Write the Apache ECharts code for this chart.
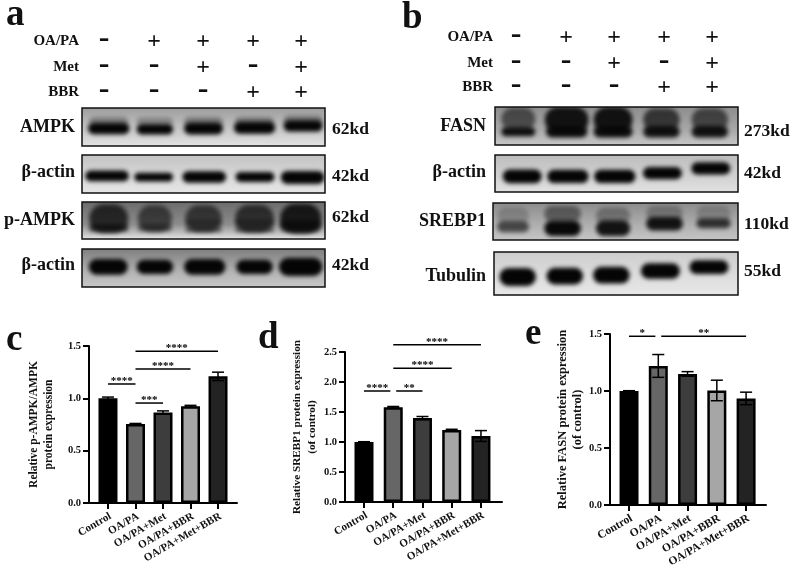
<!DOCTYPE html>
<html>
<head>
<meta charset="utf-8">
<style>
  html, body { margin: 0; background: #fff; }
  #chart { width: 792px; height: 570px; }
</style>
<script src="https://cdn.jsdelivr.net/npm/echarts@6/dist/echarts.min.js"></script>
</head>
<body>
<div id="chart"></div>
<script>
// bar panels
const categories = ['Control', 'OA/PA', 'OA/PA+Met', 'OA/PA+BBR', 'OA/PA+Met+BBR']
const valuesC = [1.0, 0.755, 0.865, 0.925, 1.21]
const errorsC = [0.012, 0.005, 0.015, 0.008, 0.04]
const valuesD = [1.0, 1.58, 1.4, 1.2, 1.1]
const errorsD = [0.005, 0.012, 0.025, 0.012, 0.09]
const valuesE = [1.0, 1.22, 1.15, 1.005, 0.935]
const errorsE = [0.003, 0.1, 0.02, 0.09, 0.055]
// significance brackets: from, to, height, stars
const sigC = [[0, 1, 1.137, '****'], [1, 2, 0.955, '***'], [1, 3, 1.28, '****'], [1, 4, 1.45, '****']]
const sigD = [[0, 0.9, 1.85, '****'], [1.1, 2, 1.85, '**'], [1, 3, 2.23, '****'], [1, 4, 2.62, '****']]
const sigE = [[0, 0.9, 1.48, '*'], [1.1, 4, 1.48, '**']]

// treatment rows
const lanesOaPa = ['-', '+', '+', '+', '+']
const lanesMet = ['-', '-', '+', '-', '+']
const lanesBbr = ['-', '-', '-', '+', '+']

// blot bands: lane %, height %, width %, thickness %, density
const blotAmpk = [[11, 64, 16, 24, .3], [30, 64, 15, 22, .27], [50, 64, 16, 24, .32], [71, 64, 16, 24, .32], [91, 68, 16, 24, .32],
  [11, 46, 17, 30, 1], [30, 44, 15, 28, 1], [50, 46, 16, 32, 1], [71, 48, 17, 32, 1], [91, 53, 16, 30, 1]]
const blotActinA = [[10.3, 45, 18, 28, 1], [29.5, 42, 16, 23, 1], [50.3, 42, 18, 30, 1], [71.2, 42, 16, 26, 1], [90.8, 41, 18, 34, 1]]
const blotPampk = [[11, 55, 16, 78, .75], [30, 55, 14, 72, .58], [50, 55, 15, 72, .62], [71, 55, 16, 75, .68], [90, 55, 17, 80, .85],
  [11, 30, 16, 20, .7], [30, 30, 14, 18, .5], [50, 44, 15, 16, .35], [50, 26, 15, 14, .55], [71, 44, 16, 16, .4], [71, 26, 16, 14, .55], [90, 35, 17, 32, .7]]
const blotActinB = [[10.8, 53, 16, 42, 1], [30, 53, 15, 38, 1], [50.5, 53, 17, 42, 1], [71, 53, 15, 38, 1], [90, 53, 18, 48, 1]]
const blotFasn = [[9.6, 68, 14, 60, .55], [29.5, 66, 18, 68, .92], [48.6, 66, 16, 68, .92], [68.5, 66, 15, 60, .68], [88.4, 66, 15, 60, .6],
  [9.6, 35, 14, 24, .95], [29.5, 35, 17, 30, .95], [48.6, 35, 16, 30, .95], [68.5, 35, 15, 30, .92], [88.4, 35, 15, 30, .92]]
const blotActinC = [[11.2, 42, 16, 37, 1], [30, 42, 17, 36, 1], [49.3, 42, 17, 36, 1], [68.9, 51, 16, 33, 1], [88.8, 64, 16, 33, 1]]
const blotSrebp = [[8.2, 65, 13, 44, .2], [28.4, 70, 15, 44, .45], [49, 65, 14, 44, .32], [70, 70, 15, 44, .28], [90, 70, 14, 44, .2],
  [8.2, 36, 13, 30, .62], [28.4, 32, 15, 42, .98], [49, 32, 14, 42, .92], [70, 44, 15, 36, .92], [90, 45, 14, 26, .75]]
const blotTubulin = [[9.7, 42, 15, 42, 1], [29, 44, 15, 39, 1], [48.1, 46, 15, 39, 1], [68.2, 56, 16, 36, 1], [88.1, 65, 16, 32, 1]]

const blotA = [
  { bands: blotAmpk, box: [82, 108, 243, 38], bg: ['#9c9c9c', '#c9c9c9', '#e4e4e4'], name: 'AMPK', nameY: 127, kdY: 129 },
  { bands: blotActinA, box: [82, 155, 243, 38], bg: ['#c2c2c2', '#dadada', '#e6e6e6'], name: 'β-actin', nameY: 172, kdY: 176 },
  { bands: blotPampk, box: [82, 202, 243, 37], bg: ['#6a6a6a', '#8c8c8c', '#e8e8e8'], name: 'p-AMPK', nameY: 220, kdY: 217 },
  { bands: blotActinB, box: [82, 249, 243, 38], bg: ['#7d7d7d', '#b4b4b4', '#c8c8c8'], name: 'β-actin', nameY: 265, kdY: 265 }
]
const blotB = [
  { bands: blotFasn, box: [495, 107, 243, 38], bg: ['#8c8c8c', '#a8a8a8', '#c8c8c8'], name: 'FASN', nameY: 126, kdY: 131 },
  { bands: blotActinC, box: [495, 155, 243, 37], bg: ['#bcbcbc', '#d2d2d2', '#e2e2e2'], name: 'β-actin', nameY: 172, kdY: 173 },
  { bands: blotSrebp, box: [493, 203, 245, 37], bg: ['#8a8a8a', '#b0b0b0', '#c6c6c6'], name: 'SREBP1', nameY: 221, kdY: 224 },
  { bands: blotTubulin, box: [494, 252, 244, 43], bg: ['#cdcdcd', '#dedede', '#e8e8e8'], name: 'Tubulin', nameY: 276, kdY: 271 }
]
const kdA = ['62kd', '42kd', '62kd', '42kd']
const kdB = ['273kd', '42kd', '110kd', '55kd']

const serif = '"Liberation Serif"'
const barColors = ['#000000', '#666666', '#3d3d3d', '#a6a6a6', '#232323']

const grids = []
const xAxes = []
const yAxes = []
const series = []
const texts = []

function addText(text, x, y, size, align) {
  texts.push({
    type: 'text',
    style: {
      text, x, y,
      font: `bold ${size}px ${serif}`,
      textAlign: align || 'left',
      textVerticalAlign: 'middle',
      fill: '#111'
    }
  })
}

// one membrane strip: hidden axes, bands placed by the axes in % of the strip
function addBlot(strip) {
  const idx = grids.length
  const [left, top, width, height] = strip.box
  grids.push({
    left, top, width, height,
    show: true,
    borderColor: '#111',
    borderWidth: 1.5,
    backgroundColor: new echarts.graphic.LinearGradient(0, 0, 0, 1, [
      { offset: 0, color: strip.bg[0] },
      { offset: 0.6, color: strip.bg[1] },
      { offset: 1, color: strip.bg[2] }
    ])
  })
  xAxes.push({ gridIndex: idx, type: 'value', min: 0, max: 100, show: false })
  yAxes.push({ gridIndex: idx, type: 'value', min: 0, max: 100, show: false })
  series.push({
    type: 'custom',
    xAxisIndex: idx,
    yAxisIndex: idx,
    clip: true,
    silent: true,
    data: strip.bands,
    renderItem(params, api) {
      const c = api.coord([api.value(0), api.value(1)])
      const s = api.size([api.value(2), api.value(3)])
      const k = api.value(4)
      // only the shadow lands on the strip, so the band has no hard edge
      return {
        type: 'rect',
        shape: { x: c[0] - s[0] / 2 - 2000, y: c[1] - s[1] / 2, width: s[0], height: s[1], r: s[1] / 2 },
        style: { fill: '#000', shadowBlur: 4, shadowOffsetX: 2000, shadowColor: `rgba(5,5,5,${k})` }
      }
    }
  })
}

// one bar panel with error bars and brackets
function addBars(cfg) {
  const idx = grids.length
  grids.push({ left: cfg.left, top: cfg.top, width: cfg.width, height: cfg.height })
  xAxes.push({
    gridIndex: idx,
    type: 'value',
    min: cfg.xMin,
    max: cfg.xMax,
    splitLine: { show: false },
    axisLine: { onZero: false, lineStyle: { color: '#000', width: 2 } },
    axisTick: { length: 6, customValues: [0, 1, 2, 3, 4], lineStyle: { color: '#000', width: 2 } },
    axisLabel: {
      customValues: [0, 1, 2, 3, 4],
      formatter: v => categories[v],
      rotate: 30,
      margin: 14,
      padding: [0, -3, 0, 0],
      color: '#111',
      fontFamily: serif,
      fontWeight: 'bold',
      fontSize: cfg.catSize
    }
  })
  yAxes.push({
    gridIndex: idx,
    type: 'value',
    min: 0,
    max: cfg.yMax,
    interval: 0.5,
    name: cfg.title,
    nameLocation: 'middle',
    nameGap: cfg.nameGap,
    nameTextStyle: { color: '#111', fontFamily: serif, fontWeight: 'bold', fontSize: cfg.titleSize, lineHeight: 15 },
    splitLine: { show: false },
    axisLine: { show: true, onZero: false, lineStyle: { color: '#000', width: 2 } },
    axisTick: { show: true, length: 6, lineStyle: { color: '#000', width: 2 } },
    axisLabel: {
      formatter: v => v.toFixed(1),
      margin: 8,
      color: '#111',
      fontFamily: serif,
      fontWeight: 'bold',
      fontSize: 10.5
    }
  })
  series.push({
    type: 'bar',
    xAxisIndex: idx,
    yAxisIndex: idx,
    barWidth: 19,
    silent: true,
    data: cfg.values.map((v, i) => ({
      value: [i, v],
      itemStyle: { color: barColors[i], borderColor: '#000', borderWidth: 2.5 }
    }))
  })
  series.push({
    type: 'custom',
    xAxisIndex: idx,
    yAxisIndex: idx,
    silent: true,
    z: 5,
    data: cfg.values.map((v, i) => [i, v - cfg.errors[i], v + cfg.errors[i]]),
    renderItem(params, api) {
      const lo = api.coord([api.value(0), api.value(1)])
      const hi = api.coord([api.value(0), api.value(2)])
      const style = { stroke: '#000', lineWidth: 1.5, fill: 'none' }
      return {
        type: 'group',
        children: [
          { type: 'line', shape: { x1: lo[0], y1: lo[1], x2: hi[0], y2: hi[1] }, style },
          { type: 'line', shape: { x1: lo[0] - 6, y1: lo[1], x2: lo[0] + 6, y2: lo[1] }, style },
          { type: 'line', shape: { x1: hi[0] - 6, y1: hi[1], x2: hi[0] + 6, y2: hi[1] }, style }
        ]
      }
    }
  })
  series.push({
    type: 'custom',
    xAxisIndex: idx,
    yAxisIndex: idx,
    silent: true,
    z: 5,
    clip: false,
    data: cfg.sig,
    encode: { x: [0, 1], y: 2 },
    renderItem(params, api) {
      const a = api.coord([api.value(0), api.value(2)])
      const b = api.coord([api.value(1), api.value(2)])
      return {
        type: 'group',
        children: [
          { type: 'line', shape: { x1: a[0], y1: a[1], x2: b[0], y2: b[1] }, style: { stroke: '#000', lineWidth: 1.5 } },
          {
            type: 'text',
            style: {
              text: cfg.sig[params.dataIndex][3],
              x: (a[0] + b[0]) / 2,
              y: a[1] - 3,
              font: `bold 11px ${serif}`,
              textAlign: 'center',
              textVerticalAlign: 'middle',
              fill: '#000'
            }
          }
        ]
      }
    }
  })
}

// treatment table above a panel
function addRows(lanes, rowY, labelX) {
  const rows = [['OA/PA', lanesOaPa], ['Met', lanesMet], ['BBR', lanesBbr]]
  rows.forEach(([label, signs], r) => {
    addText(label, labelX, rowY[r], 15, 'right')
    signs.forEach((s, i) => {
      if (s === '+') addText(s, lanes[i], rowY[r] + 1, 24, 'center')
      else addText(s, lanes[i], rowY[r] - 2, 32, 'center')
    })
  })
}

blotA.forEach((strip, i) => {
  addBlot(strip)
  addText(strip.name, 75, strip.nameY, 18, 'right')
  addText(kdA[i], 332, strip.kdY, 17.5)
})
blotB.forEach((strip, i) => {
  addBlot(strip)
  addText(strip.name, 486, strip.nameY, 18, 'right')
  addText(kdB[i], 744, strip.kdY, 17.5)
})
addRows([104, 154, 203, 253, 301], [41, 67, 92], 79)
addRows([516, 566, 614, 664, 712], [37, 63, 87], 493)

addText('a', 6, 15, 37)
addText('b', 402, 18, 37)
addText('c', 6, 340, 37)
addText('d', 258, 338, 37)
addText('e', 525, 334, 37)

addBars({
  left: 89, top: 346, width: 148, height: 157, xMin: -0.69, xMax: 4.69, yMax: 1.5,
  values: valuesC, errors: errorsC, sig: sigC, catSize: 11,
  title: 'Relative p-AMPK/AMPK\nprotein expression', titleSize: 11.5, nameGap: 32
})
addBars({
  left: 345, top: 352, width: 157, height: 150, xMin: -0.65, xMax: 4.72, yMax: 2.5,
  values: valuesD, errors: errorsD, sig: sigD, catSize: 11,
  title: 'Relative SREBP1 protein expression\n(of control)', titleSize: 11.2, nameGap: 21
})
addBars({
  left: 610, top: 334, width: 156, height: 172, xMin: -0.65, xMax: 4.68, yMax: 1.5,
  values: valuesE, errors: errorsE, sig: sigE, catSize: 11.5,
  title: 'Relative FASN protein expression\n(of control)', titleSize: 12.5, nameGap: 24
})

const chart = echarts.init(document.getElementById('chart'), null, { renderer: 'canvas' })
chart.setOption({
  backgroundColor: '#fff',
  animation: false,
  tooltip: { show: false },
  grid: grids,
  xAxis: xAxes,
  yAxis: yAxes,
  series,
  graphic: { elements: texts }
})
</script>
</body>
</html>
